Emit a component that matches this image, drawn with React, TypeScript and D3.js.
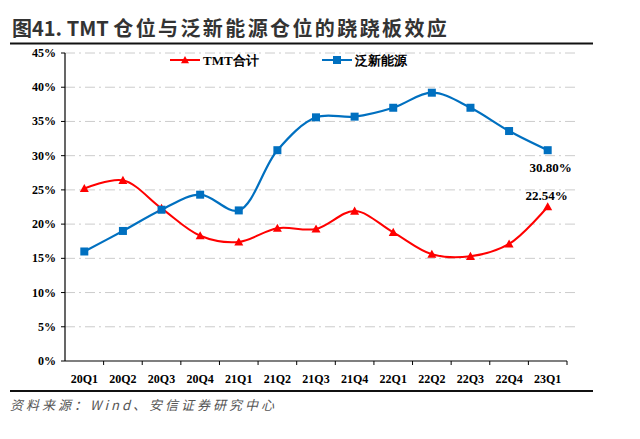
import React from "react";
import * as d3 from "d3";

const categories = ["20Q1","20Q2","20Q3","20Q4","21Q1","21Q2","21Q3","21Q4","22Q1","22Q2","22Q3","22Q4","23Q1"];
const tmtValues = [25.2, 26.4, 22.3, 18.3, 17.4, 19.4, 19.3, 21.9, 18.8, 15.6, 15.3, 17.1, 22.54];
const newEnergyValues = [16.0, 19.0, 22.1, 24.3, 22.0, 30.8, 35.6, 35.7, 37.0, 39.2, 37.0, 33.6, 30.8];
const yTicks = [0, 5, 10, 15, 20, 25, 30, 35, 40, 45];
const seriesNames = ["TMT合计", "泛新能源"];
const titlePrefix = "图41. TMT ";
const titleRest = "仓位与泛新能源仓位的跷跷板效应";
const sourceText = "资料来源：Wind、安信证券研究中心";

export default function App() {
  const W = 640, H = 439;
  const left = 65, right = 567, top = 53, bottom = 361;
  const x = d3.scaleBand<string>().domain(categories).range([left, right]);
  const y = d3.scaleLinear().domain([0, 45]).range([bottom, top]);
  const cx = (c: string) => (x(c) as number) + x.bandwidth() / 2;
  const line = d3.line<number>().x((_, i) => cx(categories[i])).y(d => y(d)).curve(d3.curveCatmullRom.alpha(0.5));
  const serif = "'Liberation Serif', 'Times New Roman', serif";
  const red = "#ff0000";
  const blue = "#0070c0";
  const tri = (px: number, py: number, s: number) => `M${px},${py - s}L${px + s},${py + s * 0.8}L${px - s},${py + s * 0.8}Z`;
  return (
    <svg width={W} height={H} style={{ position: "absolute", left: 0, top: 0, background: "#fff" }}>
      <rect width={W} height={H} fill="#fff" />
      <text x={12} y={36} fontSize={20} fontWeight="bold" fill="#333" fontFamily="'Noto Sans CJK SC', sans-serif">
        <tspan>{titlePrefix}</tspan>
        <tspan letterSpacing={2.4}>{titleRest}</tspan>
      </text>
      <line x1={10} x2={593} y1={43.5} y2={43.5} stroke="#111" strokeWidth={2} />
      {yTicks.map(t => (
        <g key={t}>
          {t > 0 && <line x1={left} x2={right + 8} y1={y(t)} y2={y(t)} stroke="#cccccc" strokeWidth={1} strokeDasharray="10,4,2,4" />}
          <line x1={left - 4} x2={left} y1={y(t)} y2={y(t)} stroke="#000" />
          <text x={56} y={y(t) + 4} textAnchor="end" fontSize={12} fontWeight="bold" fontFamily={serif}>{t}%</text>
        </g>
      ))}
      <line x1={left} x2={left} y1={top} y2={bottom} stroke="#000" strokeWidth={1.2} />
      <line x1={left} x2={right} y1={bottom} y2={bottom} stroke="#000" strokeWidth={1.2} />
      {categories.map((c) => (
        <g key={c}>
          <line x1={(x(c) as number) + x.bandwidth()} x2={(x(c) as number) + x.bandwidth()} y1={bottom} y2={bottom + 4} stroke="#000" />
          <text x={cx(c)} y={bottom + 22} textAnchor="middle" fontSize={12} fontWeight="bold" fontFamily={serif}>{c}</text>
        </g>
      ))}
      <path d={line(tmtValues) || ""} fill="none" stroke={red} strokeWidth={2} />
      <path d={line(newEnergyValues) || ""} fill="none" stroke={blue} strokeWidth={2.2} />
      {tmtValues.map((v, i) => (
        <path key={i} d={tri(cx(categories[i]), y(v), 4.5)} fill={red} />
      ))}
      {newEnergyValues.map((v, i) => (
        <rect key={i} x={cx(categories[i]) - 4} y={y(v) - 4} width={8} height={8} fill={blue} />
      ))}
      <text x={cx(categories[12]) + 3} y={y(newEnergyValues[12]) + 22} textAnchor="middle" fontSize={13} fontWeight="bold" fontFamily={serif}>30.80%</text>
      <text x={cx(categories[12]) - 1} y={y(tmtValues[12]) - 7} textAnchor="middle" fontSize={13} fontWeight="bold" fontFamily={serif}>22.54%</text>
      <g>
        <line x1={170} x2={200} y1={60} y2={60} stroke={red} strokeWidth={2} />
        <path d={tri(185, 60, 4)} fill={red} />
        <text x={203} y={65} fontSize={13} fontWeight="bold" fontFamily={serif}>{seriesNames[0]}</text>
        <line x1={322} x2={352} y1={60} y2={60} stroke={blue} strokeWidth={2} />
        <rect x={333} y={56} width={8} height={8} fill={blue} />
        <text x={355} y={65} fontSize={13} fontWeight="bold" fontFamily={serif}>{seriesNames[1]}</text>
      </g>
      <line x1={10} x2={593} y1={391} y2={391} stroke="#111" strokeWidth={2} />
      <text x={10} y={410} fontSize={13} fontStyle="italic" letterSpacing={3} fill="#555" fontFamily="'Noto Sans CJK SC', sans-serif">{sourceText}</text>
    </svg>
  );
}
